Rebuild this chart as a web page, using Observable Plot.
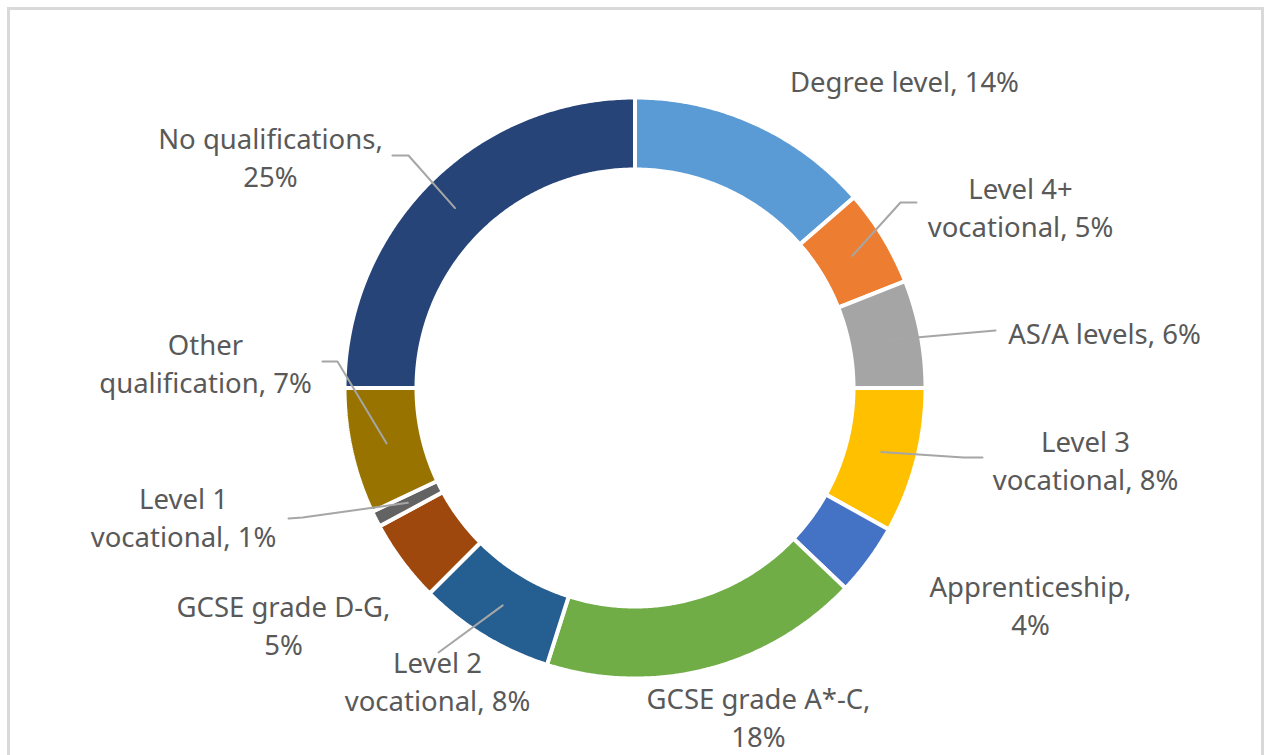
<!DOCTYPE html>
<html>
<head>
<meta charset="utf-8">
<script src="https://cdn.jsdelivr.net/npm/d3@7"></script>
<script src="https://cdn.jsdelivr.net/npm/@observablehq/plot@0.6"></script>
<style>
  html, body { margin: 0; padding: 0; background: #ffffff; }
  #wrap { position: relative; width: 1266px; height: 755px; overflow: hidden; }
  #frame { position: absolute; left: 7px; top: 7px; width: 1251px; height: 800px; border: 3px solid #d9d9d9; pointer-events: none; }
</style>
</head>
<body>
<div id="wrap"><div id="chart"></div><div id="frame"></div></div>
<script>
// ---- data ----
const categories = [
  "Degree level", "Level 4+ vocational", "AS/A levels", "Level 3 vocational",
  "Apprenticeship", "GCSE grade A*-C", "Level 2 vocational", "GCSE grade D-G",
  "Level 1 vocational", "Other qualification", "No qualifications"
];
const shares = [13.6, 5.4, 6.0, 8.1, 4.0, 17.8, 7.6, 4.6, 0.9, 7.0, 25.0];
const labelNames = [
  "Degree level", "Level 4+\nvocational", "AS/A levels", "Level 3\nvocational",
  "Apprenticeship", "GCSE grade A*-C", "Level 2\nvocational", "GCSE grade D-G",
  "Level 1\nvocational", "Other\nqualification", "No qualifications"
];
const breakBeforeValue = [false, false, false, false, true, true, false, true, false, false, true];
const colors = ["#5b9bd5", "#ed7d31", "#a5a5a5", "#ffc000", "#4472c4", "#70ad47",
                "#255e91", "#9e480e", "#636363", "#997300", "#264478"];

// ---- layout (pixel space of the chart) ----
const W = 1266, H = 755;
const cx = 634.5, cy = 387.5, rOuter = 290.5, rInner = 218.5, rMid = 254.5;
const labelPos = [
  [904, 79], [1020, 205], [1104, 331], [1085, 458], [1030, 603], [758, 715],
  [437, 679], [283, 623], [183, 515], [205, 361], [270, 155]
];
// leader line: points after the slice centroid (null = no leader)
const leaderPts = [
  null, [[900, 202], [916, 202]], [[995, 330]], [[963, 457], [982, 457]],
  null, null, [[438, 652]], null, [[302, 517], [288, 518]],
  [[337, 361], [322, 361]], [[408, 155], [392, 155]]
];

// ---- build geometry ----
const pie = d3.pie().sort(null).value(d => d.share).startAngle(0).endAngle(2 * Math.PI);
const rows = categories.map((c, i) => ({cat: c, share: shares[i], i}));
const arcs = pie(rows);
const px = (a, r) => cx + r * Math.sin(a);
const py = (a, r) => cy - r * Math.cos(a);

const ringPts = [];
arcs.forEach(a => {
  const n = Math.max(4, Math.ceil((a.endAngle - a.startAngle) / (Math.PI / 360)));
  const pts = [];
  for (let k = 0; k <= n; k++) {
    const t = a.startAngle + (a.endAngle - a.startAngle) * k / n;
    pts.push([px(t, rOuter), py(t, rOuter)]);
  }
  for (let k = n; k >= 0; k--) {
    const t = a.startAngle + (a.endAngle - a.startAngle) * k / n;
    pts.push([px(t, rInner), py(t, rInner)]);
  }
  pts.push(pts[0]);
  pts.forEach(p => ringPts.push({cat: a.data.cat, x: p[0], y: p[1]}));
});

const leaderRows = [];
arcs.forEach((a, i) => {
  if (!leaderPts[i]) return;
  const m = (a.startAngle + a.endAngle) / 2;
  leaderRows.push({cat: a.data.cat, x: px(m, rMid), y: py(m, rMid)});
  leaderPts[i].forEach(p => leaderRows.push({cat: a.data.cat, x: p[0], y: p[1]}));
});

const labels = rows.map((r, i) => ({
  cat: r.cat,
  text: labelNames[i] + "," + (breakBeforeValue[i] ? "\n" : " ") + Math.round(r.share) + "%",
  x: labelPos[i][0], y: labelPos[i][1]
}));

const chart = Plot.plot({
  width: W, height: H,
  marginTop: 0, marginRight: 0, marginBottom: 0, marginLeft: 0,
  style: {background: "transparent"},
  x: {domain: [0, W], range: [0, W], axis: null},
  y: {domain: [0, H], range: [0, H], axis: null},
  color: {domain: categories, range: colors},
  marks: [
    Plot.line(ringPts, {x: "x", y: "y", z: "cat", fill: "cat", stroke: "#ffffff", strokeWidth: 4, strokeLinejoin: "miter", curve: "linear"}),
    Plot.line(leaderRows, {x: "x", y: "y", z: "cat", stroke: "#a6a6a6", strokeWidth: 2, curve: "linear"}),
    Plot.text(labels, {x: "x", y: "y", text: "text", fill: "#595959", fontSize: 27.5, lineHeight: 1.38,
      fontFamily: "Noto Sans", textAnchor: "middle", lineAnchor: "middle"})
  ]
});
document.getElementById("chart").appendChild(chart);
</script>
</body>
</html>
